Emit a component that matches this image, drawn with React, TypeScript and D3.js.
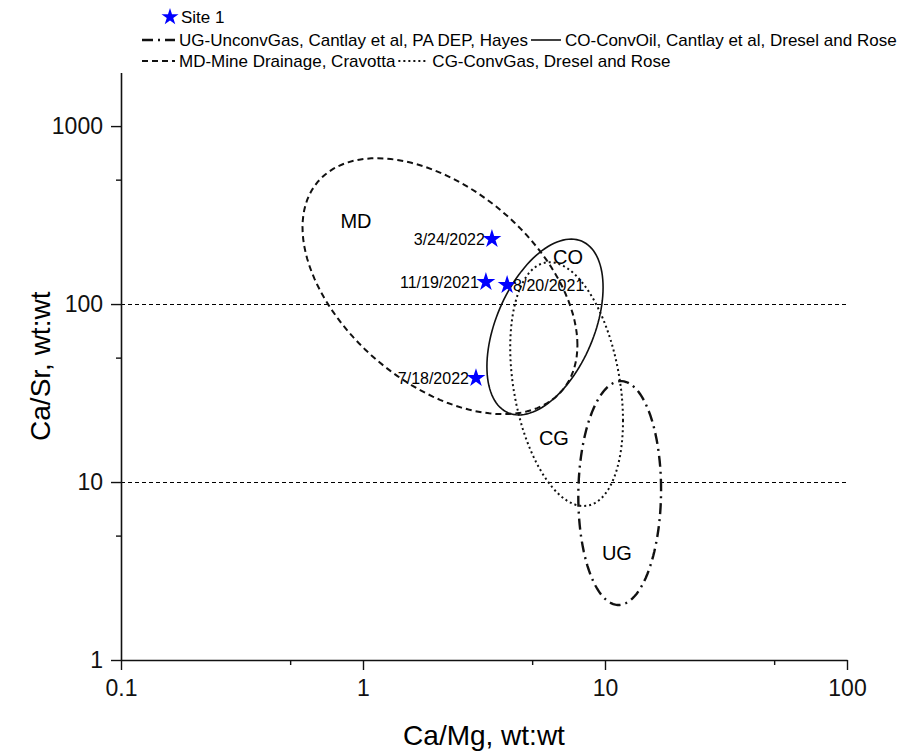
import * as d3 from "d3";
import { useEffect, useRef } from "react";

// axis ticks
const xTicks = [0.1, 1, 10, 100];
const xMinorTicks = [0.5, 5, 50];
const yTicks = [1, 10, 100, 1000];
const yMinorTicks = [5, 50, 500];
const gridValues = [10, 100];

// source-water fields: centre (Ca/Mg, Ca/Sr), half-spread in decades, tilt
const regionNames = ["MD", "CO", "CG", "UG"];
const regionCaMg = [2.08, 5.65, 6.94, 11.5];
const regionCaSr = [126, 74.3, 35.5, 8.67];
const regionSpreadX = [0.568, 0.24, 0.233, 0.171];
const regionSpreadY = [0.719, 0.494, 0.685, 0.629];
const regionTilt = [-0.46, 0.45, -0.3, 0.03];
const regionLabelCaMg = [0.935, 7.03, 6.15, 11.2];
const regionLabelCaSr = [293, 184, 17.7, 3.99];

// Site 1 samples
const siteDates = ["3/24/2022", "11/19/2021", "8/20/2021", "7/18/2022"];
const siteCaMg = [3.41, 3.22, 3.94, 2.93];
const siteCaSr = [232, 133, 128, 38.4];
const siteLabelSide = ["left", "left", "right", "left"];

const legendRows = [
    ["UG", "UG-UnconvGas, Cantlay et al, PA DEP, Hayes", "CO", "CO-ConvOil, Cantlay et al, Dresel and Rose"],
    ["MD", "MD-Mine Drainage, Cravotta", "CG", "CG-ConvGas, Dresel and Rose"],
];

const FONT = "'Liberation Sans', Arial, Helvetica, sans-serif";

const lineStyle = {
    MD: { dash: "6,4", width: 2 },
    CO: { dash: null, width: 1.6 },
    CG: { dash: "2,3", width: 2 },
    UG: { dash: "11,5,2,5", width: 2.4 },
};

const App = () => {
    const svgRef = useRef(null);
    const width = 911;
    const height = 756;

    useEffect(() => {
        const svg = d3.select(svgRef.current);
        svg.selectAll("*").remove();

        const x = d3.scaleLog().domain([0.1, 100]).range([121, 847]);
        const y = d3.scaleLog().domain([1, 2000]).range([660, 72.5]);

        // dashed reference lines
        svg.append("g")
            .selectAll("line")
            .data(gridValues)
            .join("line")
            .attr("x1", x(0.1))
            .attr("x2", x(100))
            .attr("y1", (d) => Math.round(y(d)) + 0.5)
            .attr("y2", (d) => Math.round(y(d)) + 0.5)
            .attr("stroke", "#000")
            .attr("stroke-width", 1)
            .attr("stroke-dasharray", "4,3");

        // axes
        const styleAxis = (g, size) => {
            g.select(".domain").attr("stroke", "#111").attr("stroke-width", 1.6);
            g.selectAll(".tick line").attr("stroke", "#111").attr("stroke-width", 1.4);
            g.selectAll(".tick text")
                .attr("fill", "#111")
                .style("font-family", FONT)
                .style("font-size", size + "px");
        };

        const fmt = d3.format("~g");
        svg.append("g")
            .attr("transform", "translate(0,660)")
            .call(d3.axisBottom(x).tickValues(xTicks).tickFormat(fmt).tickSize(10).tickSizeOuter(0).tickPadding(10))
            .call((g) => styleAxis(g, 23));
        svg.append("g")
            .attr("transform", "translate(0,660)")
            .call(d3.axisBottom(x).tickValues(xMinorTicks).tickFormat(() => "").tickSize(5).tickSizeOuter(0))
            .call((g) => g.select(".domain").remove())
            .call((g) => styleAxis(g, 10));

        svg.append("g")
            .attr("transform", "translate(121,0)")
            .call(d3.axisLeft(y).tickValues(yTicks).tickFormat(fmt).tickSize(10).tickSizeOuter(0).tickPadding(8))
            .call((g) => styleAxis(g, 23));
        svg.append("g")
            .attr("transform", "translate(121,0)")
            .call(d3.axisLeft(y).tickValues(yMinorTicks).tickFormat(() => "").tickSize(5).tickSizeOuter(0))
            .call((g) => g.select(".domain").remove())
            .call((g) => styleAxis(g, 10));

        // axis titles
        svg.append("text")
            .attr("x", (x(0.1) + x(100)) / 2)
            .attr("y", 745)
            .attr("text-anchor", "middle")
            .style("font-family", FONT)
            .style("font-size", "28px")
            .text("Ca/Mg, wt:wt");
        svg.append("text")
            .attr("transform", `translate(50,${(y(1) + y(2000)) / 2}) rotate(-90)`)
            .attr("text-anchor", "middle")
            .style("font-family", FONT)
            .style("font-size", "28px")
            .text("Ca/Sr, wt:wt");

        // ellipses, traced in log space
        const steps = d3.range(0, 120).map((i) => (i / 120) * 2 * Math.PI);
        const ellipse = d3.line().curve(d3.curveLinearClosed);
        regionNames.forEach((name, i) => {
            const lx = Math.log10(regionCaMg[i]);
            const ly = Math.log10(regionCaSr[i]);
            const r = regionTilt[i];
            const pts = steps.map((t) => [
                x(10 ** (lx + regionSpreadX[i] * Math.cos(t))),
                y(10 ** (ly + regionSpreadY[i] * (r * Math.cos(t) + Math.sqrt(1 - r * r) * Math.sin(t)))),
            ]);
            const st = lineStyle[name];
            svg.append("path")
                .attr("d", ellipse(pts))
                .attr("fill", "none")
                .attr("stroke", "#111")
                .attr("stroke-width", st.width)
                .attr("stroke-dasharray", st.dash);

            svg.append("text")
                .attr("x", x(regionLabelCaMg[i]))
                .attr("y", y(regionLabelCaSr[i]))
                .attr("dy", "0.35em")
                .attr("text-anchor", "middle")
                .style("font-family", FONT)
                .style("font-size", "20px")
                .text(name);
        });

        // site points
        const star = d3.symbol().type(d3.symbolStar).size(110);
        siteDates.forEach((date, i) => {
            const px = x(siteCaMg[i]);
            const py = y(siteCaSr[i]);
            svg.append("path")
                .attr("d", star())
                .attr("transform", `translate(${px},${py})`)
                .attr("fill", "#0000ff");
            const left = siteLabelSide[i] === "left";
            svg.append("text")
                .attr("x", left ? px - 7 : px + 6)
                .attr("y", py)
                .attr("dy", "0.35em")
                .attr("text-anchor", left ? "end" : "start")
                .style("font-family", FONT)
                .style("font-size", "16px")
                .text(date);
        });

        // legend
        const lg = svg.append("g").style("font-family", FONT).style("font-size", "17px");
        lg.append("path").attr("d", d3.symbol().type(d3.symbolStar).size(90)()).attr("transform", "translate(170,17)").attr("fill", "#0000ff");
        lg.append("text").attr("x", 181).attr("y", 17).attr("dy", "0.35em").text("Site 1");

        legendRows.forEach((row, r) => {
            const ry = 40 + r * 21;
            let cx = 142;
            for (let k = 0; k < row.length; k += 2) {
                const st = lineStyle[row[k]];
                const len = k === 0 ? 33 : 30;
                lg.append("line")
                    .attr("x1", cx)
                    .attr("x2", cx + len)
                    .attr("y1", ry)
                    .attr("y2", ry)
                    .attr("stroke", "#111")
                    .attr("stroke-width", st.width)
                    .attr("stroke-dasharray", st.dash);
                cx += len + 4;
                const t = lg.append("text").attr("x", cx).attr("y", ry).attr("dy", "0.35em").text(row[k + 1]);
                cx += t.node().getComputedTextLength() + 3;
            }
        });
    }, []);

    return (
        <svg
            ref={svgRef}
            width={width}
            height={height}
            style={{ position: "absolute", left: 0, top: 0, background: "#fff" }}
        />
    );
};

export default App;
